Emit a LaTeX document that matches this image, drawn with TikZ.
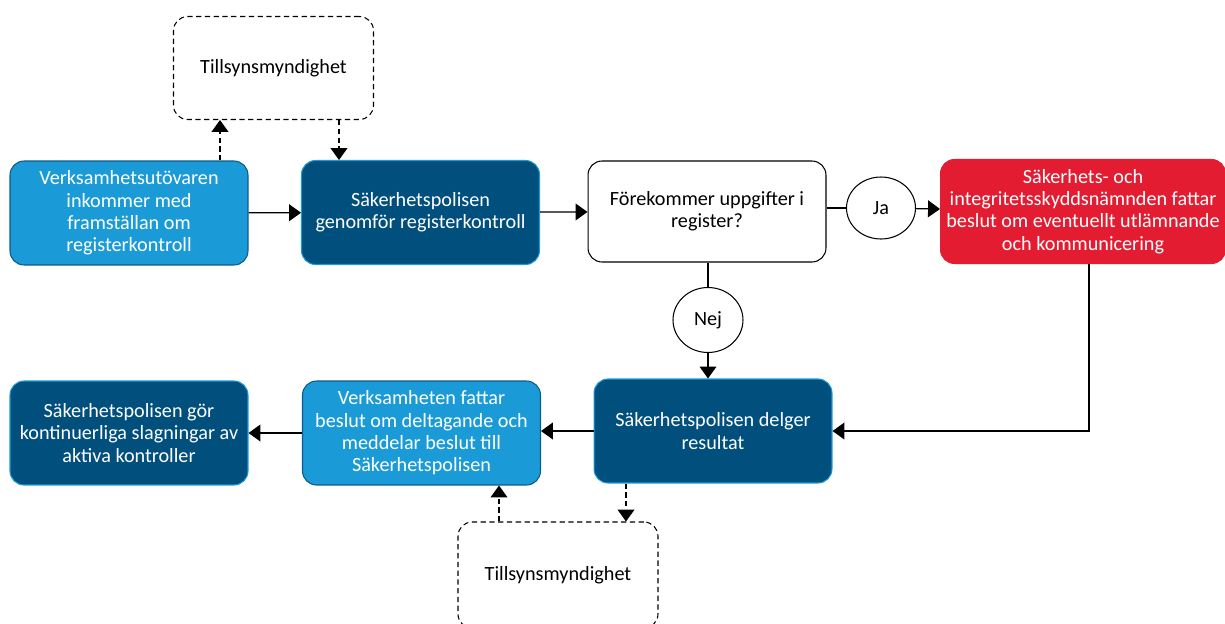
\documentclass[tikz,border=0pt]{standalone}
\usepackage{fontspec}
\setmainfont{Carlito}
\usetikzlibrary{positioning}
\usetikzlibrary{calc}
\usetikzlibrary{arrows.meta,shapes.geometric}
\definecolor{lightblue}{HTML}{1A9BD7}
\definecolor{darkblue}{HTML}{004F7D}
\definecolor{edgeblue}{HTML}{0B5A8A}
\definecolor{sakred}{HTML}{E31C31}

\begin{document}
\begin{tikzpicture}[x=0.02cm, y=-0.02cm,
  every node/.style={font=\fontsize{11.5}{12.7}\selectfont, align=center},
  box/.style={rectangle, rounded corners=0.28cm, minimum width=4.76cm,
    minimum height=2.08cm, line width=0.6pt, inner sep=1pt},
  lightbox/.style={box, fill=lightblue, draw=edgeblue, text=white},
  darkbox/.style={box, fill=darkblue, draw=lightblue, text=white},
  redbox/.style={box, fill=sakred, draw=sakred, text=white, minimum width=5.7cm},
  questionbox/.style={box, fill=white, draw=black, minimum height=2.02cm},
  tillsyn/.style={box, draw=black, dashed, dash pattern=on 3pt off 2pt,
    minimum width=4cm, minimum height=2.06cm},
  answer/.style={ellipse, draw=black, line width=0.6pt, fill=white, inner sep=0pt},
  arr/.style={line width=0.7pt, -{Triangle[length=6.8pt,width=9.6pt]}},
  darr/.style={arr, dash pattern=on 3pt off 2pt}
]

\useasboundingbox (0,0) rectangle (1225,623);
\clip (0,0) rectangle (1225,623);

% upper row
\node[lightbox] (utovare) at (129,213)
  {Verksamhetsutövaren\\inkommer med\\framställan om\\registerkontroll};
\node[darkbox] (kontroll) at (420.5,212.5)
  {Säkerhetspolisen\\genomför registerkontroll};
\node[questionbox] (fraga) at (707,211.5)
  {Förekommer uppgifter i\\register?};
\node[redbox] (namnd) at (1083,211.5)
  {Säkerhets- och\\integritetsskyddsnämnden fattar\\beslut om eventuellt utlämnande\\och kommunicering};
\node[tillsyn] (tillsynA) at (273.5,68) {Tillsynsmyndighet};

% answers
\node[answer, minimum width=1.38cm, minimum height=1.24cm] (ja) at (881,208) {Ja};
\node[answer, minimum width=1.40cm, minimum height=1.30cm] (nej) at (708,320) {Nej};

% lower row
\node[darkbox] (slagning) at (129,433)
  {Säkerhetspolisen gör\\kontinuerliga slagningar av\\aktiva kontroller};
\node[lightbox] (beslut) at (421.5,433)
  {Verksamheten fattar\\beslut om deltagande och\\meddelar beslut till\\Säkerhetspolisen};
\node[darkbox] (delger) at (713,431)
  {Säkerhetspolisen delger\\resultat};
\node[tillsyn, minimum height=2.12cm] (tillsynB) at (558,575) {Tillsynsmyndighet};

% flow
\draw[arr] (utovare) -- (kontroll);
\draw[arr] (kontroll) -- (fraga);
\draw[line width=0.7pt] (fraga.east |- ja) -- (ja);
\draw[arr] (ja) -- (namnd);
\draw[line width=0.7pt] (fraga.south -| nej) -- (nej);
\draw[arr] (nej.south) -- (nej.south |- delger.north);
\draw[arr] ([xshift=0.12cm]namnd.south) |- (delger.east);
\draw[arr] (delger.west) -- (delger.west -| beslut.east);
\draw[arr] (beslut) -- (slagning);

% supervision
\draw[darr] ([xshift=1.82cm]utovare.north) -- ([xshift=1.82cm]utovare.north |- tillsynA.south);
\draw[darr] ([xshift=1.31cm]tillsynA.south) -- ([xshift=1.31cm]tillsynA.south |- kontroll.north);
\draw[darr] ([xshift=-1.74cm]delger.south) -- ([xshift=-1.74cm]delger.south |- tillsynB.north);
\draw[darr] ([xshift=-1.18cm]tillsynB.north) -- ([xshift=-1.18cm]tillsynB.north |- beslut.south);
\end{tikzpicture}
\end{document}
